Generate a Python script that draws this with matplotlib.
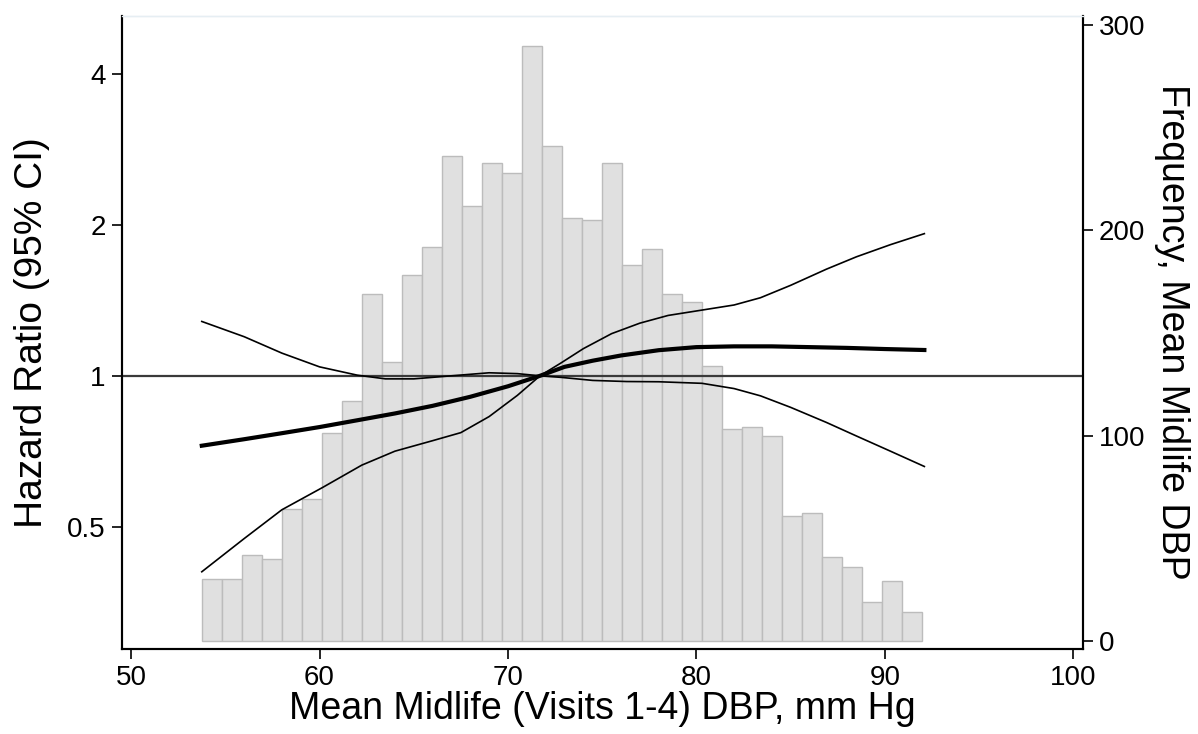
import matplotlib
matplotlib.use("Agg")
import matplotlib.pyplot as plt
import numpy as np

plt.rcParams['font.family'] = ['Liberation Sans', 'DejaVu Sans']

# histogram of mean midlife DBP
bin_start = 53.75
bin_width = 1.0625
counts = [30, 30, 42, 40, 64, 69, 101, 117, 169, 136, 178, 192,
          236, 212, 233, 228, 290, 241, 206, 205, 233, 183, 191, 169,
          165, 134, 103, 104, 100, 61, 62, 41, 36, 19, 29, 14]

# spline hazard ratio and 95% CI
hr_x = [53.75, 56, 58, 60, 62, 64, 66, 68, 70, 71.7, 73, 74.5, 76, 78, 80, 82, 84, 86, 88, 90, 92.1]
hr_y = [0.725, 0.747, 0.768, 0.790, 0.815, 0.841, 0.871, 0.908, 0.953, 1.0, 1.042, 1.072,
        1.098, 1.125, 1.141, 1.145, 1.145, 1.141, 1.137, 1.131, 1.126]

up_x = [53.75, 56, 58, 60, 62, 63.5, 65, 67, 69, 70.5, 71.7, 72.8, 74, 75.5, 77, 78.5,
        80.3, 82, 83.4, 85, 86.9, 88.5, 90.3, 92.1]
up_y = [1.284, 1.197, 1.11, 1.042, 1.003, 0.986, 0.986, 1.0, 1.014, 1.01, 1.0, 1.06, 1.133,
        1.214, 1.274, 1.32, 1.353, 1.385, 1.432, 1.516, 1.633, 1.729, 1.828, 1.923]

lo_x = [53.75, 56, 58, 60.15, 62.24, 64, 66, 67.5, 69, 70.5, 71.7, 72.8, 74.5, 76.3, 78,
        80.3, 82, 83.4, 85, 86.9, 88.5, 90.3, 92.1]
lo_y = [0.406, 0.473, 0.54, 0.598, 0.663, 0.707, 0.742, 0.77, 0.829, 0.914, 1.0, 0.993,
        0.979, 0.974, 0.973, 0.966, 0.943, 0.912, 0.865, 0.807, 0.758, 0.707, 0.659]

fig = plt.figure(figsize=(11.98, 7.34), dpi=100)
ax = fig.add_axes([0.1016, 0.1162, 0.8021, 0.8624])
ax2 = ax.twinx()

edges = bin_start + bin_width * np.arange(len(counts))
ax.bar(edges, counts, width=bin_width, align='edge', color='#e0e0e0',
       edgecolor='#bcbcbc', linewidth=1.0)
ax.set_xlim(49.5, 100.5)
ax.set_ylim(-3.9, 304.6)
ax.set_xticks([50, 60, 70, 80, 90, 100])
ax.set_yticks([0, 100, 200, 300])
ax.set_xlabel('Mean Midlife (Visits 1-4) DBP, mm Hg', fontsize=27, labelpad=0)

ax2.set_yscale('log')
ax2.set_ylim(0.285, 5.24)
ax2.set_yticks([0.5, 1, 2, 4])
ax2.set_yticklabels(['0.5', '1', '2', '4'])
ax2.minorticks_off()

# frequency on the right, hazard ratio on the left
ax.yaxis.tick_right()
ax.yaxis.set_label_position('right')
ax2.yaxis.tick_left()
ax2.yaxis.set_label_position('left')
ax.set_ylabel('Frequency, Mean Midlife DBP', fontsize=27, rotation=270, labelpad=32)
ax2.set_ylabel('Hazard Ratio (95% CI)', fontsize=28, labelpad=12)

ax2.axhline(1, color='#3a3a3a', lw=1.6, zorder=1)
ax2.plot(up_x, up_y, color='black', lw=1.2)
ax2.plot(lo_x, lo_y, color='black', lw=1.2)
ax2.plot(hr_x, hr_y, color='black', lw=3.0)

for a in (ax, ax2):
    a.tick_params(labelsize=20, length=7.5, width=1.2, pad=4)
    for s in ('left', 'bottom', 'right'):
        a.spines[s].set_linewidth(1.5)
        a.spines[s].set_color('black')
    a.spines['top'].set_color('#e6eef3')
    a.spines['top'].set_linewidth(1.0)

fig.savefig('out.png', dpi=100)
